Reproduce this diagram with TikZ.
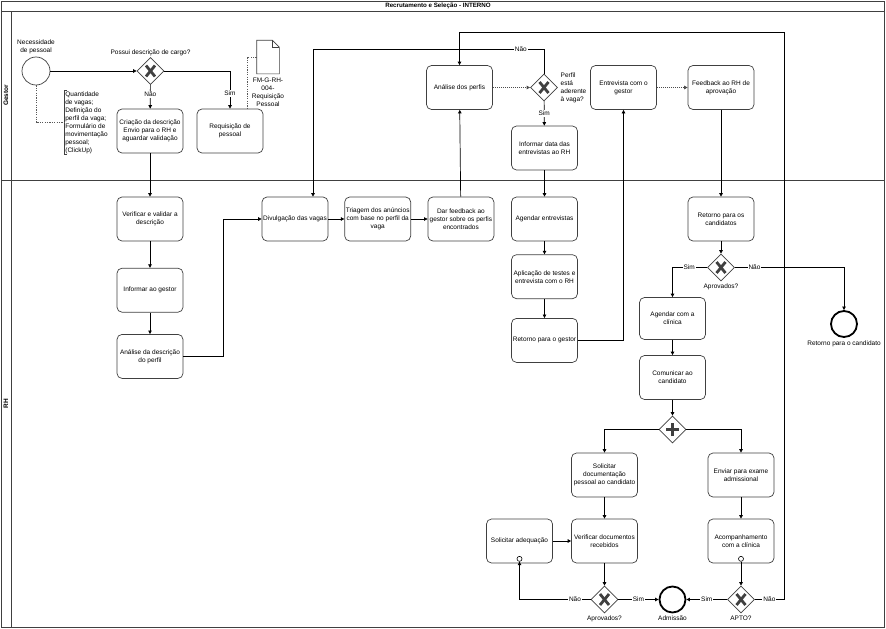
\documentclass[tikz,border=0pt]{standalone}
\usepackage{fontspec}
\setmainfont{Liberation Sans}
\usetikzlibrary{positioning, arrows.meta, shapes.geometric}

\newcommand{\diafont}{\fontsize{6.5}{8}\selectfont}

\begin{document}
\begin{tikzpicture}[
  x=1pt, y=-1pt, line width=0.7pt,
  task/.style={draw=black!75, rounded corners=5pt, minimum width=66pt,
               minimum height=44pt, font=\diafont, align=center, inner sep=1pt},
  gate/.style={draw=black!75, diamond, minimum width=27pt, minimum height=27pt,
               inner sep=0pt, fill=white},
  xgate/.style={gate, path picture={
      \draw[line width=2.8pt] ([shift={(-4.5pt,-5.5pt)}]path picture bounding box.center)
        -- ([shift={(4.5pt,5.5pt)}]path picture bounding box.center);
      \draw[line width=2.8pt] ([shift={(-4.5pt,5.5pt)}]path picture bounding box.center)
        -- ([shift={(4.5pt,-5.5pt)}]path picture bounding box.center);}},
  pgate/.style={gate, path picture={
      \draw[line width=3pt] ([xshift=-6.5pt]path picture bounding box.center)
        -- ([xshift=6.5pt]path picture bounding box.center);
      \draw[line width=3pt] ([yshift=-6.5pt]path picture bounding box.center)
        -- ([yshift=6.5pt]path picture bounding box.center);}},
  startev/.style={draw=black!75, circle, minimum size=28pt, inner sep=0pt},
  endev/.style={draw, circle, line width=1.8pt, minimum size=26pt, inner sep=0pt},
  marker/.style={draw, circle, fill=white, minimum size=5pt, inner sep=0pt,
                 line width=0.6pt},
  txt/.style={font=\diafont, align=center, inner sep=1pt},
  lbl/.style={font=\diafont, fill=white, inner sep=1pt},
  assoc/.style={black!65, dash pattern=on 1.2pt off 1.2pt},
  dots/.style={black!70, dash pattern=on 1pt off 1pt},
  arr/.style={-{Triangle[length=3.5pt, width=3.5pt]}}
]
\useasboundingbox (0,0) rectangle (886,629);

% Pool and lanes
\draw[line width=1pt, black!75] (1,1) rectangle (884,627);
\draw[black!75] (1,11) -- (884,11);
\draw[black!75] (11,11) -- (11,627);
\draw[black!75] (1,180) -- (884,180);
\node[font=\bfseries\fontsize{6.2}{7}\selectfont] (titulo) at (438,6)
  {Recrutamento e Seleção - INTERNO};
\node[rotate=90, font=\bfseries\diafont] (lgestor) at (6,95.5) {Gestor};
\node[rotate=90, font=\bfseries\diafont] (lrh) at (6,403.5) {RH};

% Gestor
\node[startev] (inicio) at (36,71) {};
\node[txt, above=1pt of inicio] (inicio lbl) {Necessidade\\de pessoal};
\node[xgate] (descgate) at (150.5,71) {};
\node[txt, above=0pt of descgate] (descgate lbl) {Possui descrição de cargo?};
\node[task] (criacao) at (150,131)
  {Criação da descrição\\Envio para o RH e\\aguardar validação};
\node[task] (requis) at (230,131) {Requisição de\\pessoal};

% Document
\node[minimum width=22pt, minimum height=33pt, inner sep=0pt] (docum) at (268,57) {};
\draw[black!75, fill=white] (docum.north west) -- ([xshift=-7pt]docum.north east)
  -- ([yshift=-7pt]docum.north east) -- (docum.south east)
  -- (docum.south west) -- cycle;
\draw[black!75] ([xshift=-7pt]docum.north east) -- ([shift={(-7pt,-7pt)}]docum.north east)
  -- ([yshift=-7pt]docum.north east);
\node[txt, below=3pt of docum] (docum lbl) {FM-G-RH-\\004-\\Requisição\\Pessoal};

% Annotation
\node[txt, align=left, anchor=north west] (nota) at (64,90)
  {Quantidade\\de vagas;\\Definição do\\perfil da vaga;\\Formulário de\\movimentação\\pessoal;\\(ClickUp)};
\draw[black!75] ([xshift=3pt]nota.north west) -- (nota.north west)
  -- (nota.south west) -- ([xshift=3pt]nota.south west);
\draw[assoc] (inicio.south) |- (nota.west);
\draw[assoc] (docum.west) -| ([xshift=-16pt]requis.north east);

\node[task] (analperf) at (459.5,87.5) {Análise dos perfis};
\node[xgate] (perfgate) at (544,87.5) {};
\node[txt, align=left, anchor=west] (perfgate lbl) at ([xshift=1.5pt]perfgate.east)
  {Perfil\\está\\aderente\\à vaga?};
\node[task] (infdata) at (544.5,148) {Informar data das\\entrevistas ao RH};
\node[task] (entrev) at (623.5,87.5) {Entrevista com o\\gestor};
\node[task] (feedb) at (721,87.5) {Feedback ao RH de\\aprovação};

% RH
\node[task] (verif) at (150,219) {Verificar e validar a\\descrição};
\node[task, below=26.5pt of verif] (inform) {Informar ao gestor};
\node[task, below=21.5pt of inform] (analdesc) {Análise da descrição\\do perfil};

\node[task] (divulg) at (295,219) {Divulgação das vagas};
\node[task, right=16pt of divulg] (triag)
  {Triagem dos anúncios\\com base no perfil da\\vaga};
\node[task, right=16.5pt of triag] (darfb)
  {Dar feedback ao\\gestor sobre os perfis\\encontrados};

\node[task] (agend) at (544.5,219) {Agendar entrevistas};
\node[task, below=13pt of agend] (aplic) {Aplicação de testes e\\entrevista com o RH};
\node[task, below=19pt of aplic] (retgest) {Retorno para o gestor};

\node[task] (retcand) at (721,219) {Retorno para os\\candidatos};
\node[xgate] (aprovgate) at (721,267.5) {};
\node[txt, below=1pt of aprovgate] (aprovgate lbl) {Aprovados?};
\node[endev] (endcand) at (844,324) {};
\node[txt, below=2pt of endcand] (endcand lbl) {Retorno para o candidato};

\node[task, minimum height=42pt] (agclin) at (672.5,318.5) {Agendar com a\\clínica};
\node[task] (comun) at (672.5,377.5) {Comunicar ao\\candidato};
\node[pgate] (pargate) at (672.5,429.5) {};
\node[task] (soldoc) at (604.5,475) {Solicitar\\documentação\\pessoal ao candidato};
\node[task] (envex) at (741,475) {Enviar para exame\\admissional};
\node[task] (verdoc) at (604.5,541) {Verificar documentos\\recebidos};
\node[task] (acomp) at (741,541) {Acompanhamento\\com a clínica};
\node[task] (soladeq) at (519.5,541) {Solicitar adequação};
\node[marker] (adeqmark) at ([yshift=4.5pt]soladeq.south) {};
\node[marker] (acompmark) at ([yshift=4.5pt]acomp.south) {};

\node[xgate] (docgate) at (604.5,599.5) {};
\node[txt, below=1pt of docgate] (docgate lbl) {Aprovados?};
\node[endev] (admis) at (672.5,599.5) {};
\node[txt, below=1pt of admis] (admis lbl) {Admissão};
\node[xgate] (aptogate) at (741,599.5) {};
\node[txt, below=1pt of aptogate] (aptogate lbl) {APTO?};

\coordinate (naoret) at (313,49);
\coordinate (voltaret) at (784,32);

% Arrows
\draw[arr] (inicio) -- (descgate);
\draw[arr] (descgate) -- node[lbl, pos=0.4] {Não} (criacao);
\draw[arr] (descgate) -| node[lbl, pos=0.8] {Sim} (requis);
\draw[arr] (criacao) -- (verif);
\draw[arr] (verif) -- (inform);
\draw[arr] (inform) -- (analdesc);
\draw[arr] (analdesc.east) -- ++(40,0) |- (divulg.west);
\draw[arr] (divulg) -- (triag);
\draw[arr] (triag) -- (darfb);
\draw[arr] (darfb) -- (analperf);
\draw[arr, dots] (analperf) -- (perfgate);
\draw[arr] (perfgate.north) |- node[lbl, pos=0.55] {Não} (naoret)
  -- (naoret |- divulg.north);
\draw[arr] (perfgate) -- node[lbl] {Sim} (infdata);
\draw[arr] (infdata) -- (agend);
\draw[arr] (agend) -- (aplic);
\draw[arr] (aplic) -- (retgest);
\draw[arr] (retgest.east) -| (entrev.south);
\draw[arr, dots] (entrev) -- (feedb);
\draw[arr] (feedb) -- (retcand);
\draw[arr] (retcand) -- (aprovgate);
\draw[arr] (aprovgate.west) -| node[lbl, pos=0.26] {Sim} (agclin.north);
\draw[arr] (aprovgate.east) -| node[lbl, pos=0.09] {Não} (endcand.north);
\draw[arr] (agclin) -- (comun);
\draw[arr] (comun) -- (pargate);
\draw[arr] (pargate.west) -| (soldoc.north);
\draw[arr] (pargate.east) -| (envex.north);
\draw[arr] (soldoc) -- (verdoc);
\draw[arr] (envex) -- (acomp);
\draw[arr] (soladeq) -- (verdoc);
\draw[arr] (verdoc) -- (docgate);
\draw[arr] (docgate.west) -| node[lbl, pos=0.11] {Não} (adeqmark.south);
\draw[arr] (docgate) -- node[lbl] {Sim} (admis);
\draw[arr] (acompmark) -- (aptogate);
\draw[arr] (aptogate) -- node[lbl] {Sim} (admis);
\draw[arr] (aptogate.east) -- node[lbl] {Não} (aptogate.east -| voltaret)
  -- (voltaret) -| (analperf.north);

\end{tikzpicture}
\end{document}
